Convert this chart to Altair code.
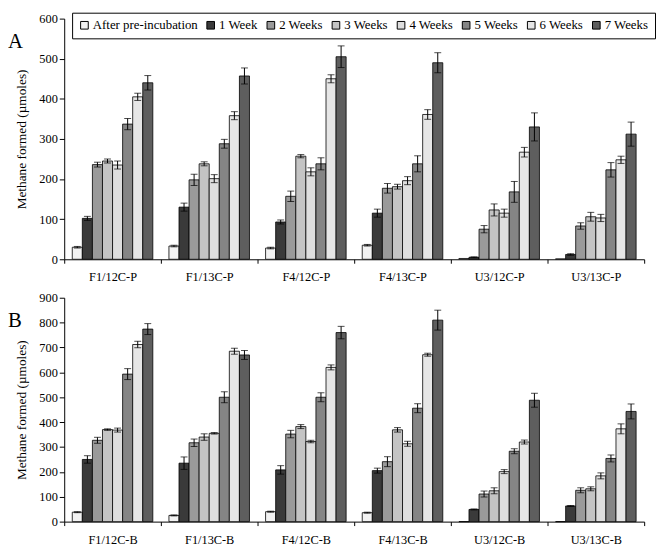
import altair as alt
import pandas as pd

FONT = "Liberation Serif"

series = ["After pre-incubation", "1 Week", "2 Weeks", "3 Weeks",
          "4 Weeks", "5 Weeks", "6 Weeks", "7 Weeks"]
fills = ["#f2f2f2", "#3a3a3a", "#9a9a9a", "#c4c4c4",
         "#dedede", "#858585", "#e6e6e6", "#5e5e5e"]

groups_a = ["F1/12C-P", "F1/13C-P", "F4/12C-P", "F4/13C-P", "U3/12C-P", "U3/13C-P"]
vals_a = [
    [30, 102, 236, 245, 235, 337, 405, 440],
    [33, 130, 198, 238, 201, 288, 358, 457],
    [28, 93, 157, 257, 218, 238, 450, 505],
    [35, 115, 177, 181, 196, 238, 361, 490],
    [2, 5, 75, 123, 115, 168, 267, 330],
    [1, 12, 83, 106, 103, 223, 248, 312],
]
errs_a = [
    [2, 5, 6, 5, 10, 14, 9, 18],
    [2, 10, 14, 5, 10, 11, 10, 20],
    [2, 5, 13, 4, 10, 15, 10, 27],
    [2, 10, 12, 6, 10, 20, 12, 25],
    [0, 1, 9, 15, 10, 26, 12, 35],
    [0, 2, 8, 11, 9, 18, 9, 30],
]

groups_b = ["F1/12C-B", "F1/13C-B", "F4/12C-B", "F4/13C-B", "U3/12C-B", "U3/13C-B"]
vals_b = [
    [38, 250, 327, 370, 368, 593, 712, 774],
    [25, 235, 317, 340, 355, 500, 685, 670],
    [40, 208, 352, 382, 322, 500, 620, 760],
    [36, 205, 241, 369, 313, 456, 671, 810],
    [0, 49, 111, 124, 201, 283, 320, 488],
    [0, 63, 126, 132, 184, 254, 373, 443],
]
errs_b = [
    [2, 15, 12, 3, 8, 22, 13, 22],
    [2, 25, 15, 13, 3, 22, 12, 18],
    [2, 17, 15, 8, 5, 18, 10, 25],
    [2, 10, 20, 9, 10, 18, 6, 40],
    [0, 2, 12, 12, 8, 10, 8, 28],
    [0, 2, 10, 8, 12, 14, 20, 30],
]


def make_df(groups, vals, errs):
    rows = []
    for g, vs, es in zip(groups, vals, errs):
        for s, v, e in zip(series, vs, es):
            rows.append({"group": g, "series": s, "value": v,
                         "lo": v - e, "hi": v + e, "err": e})
    return pd.DataFrame(rows)


def panel(groups, vals, errs, ymax, height, letter, show_legend):
    df = make_df(groups, vals, errs)
    base = alt.Chart(df)
    x = alt.X("group:N", sort=groups, title=None,
              scale=alt.Scale(paddingInner=0, paddingOuter=0),
              axis=alt.Axis(labelAngle=0, tickBand="extent", tickSize=4,
                            labelPadding=8, domainColor="black", tickColor="black",
                            labelFont=FONT, labelFontSize=12.5, labelColor="black"))
    xo = alt.XOffset("series:N", sort=series,
                     scale=alt.Scale(paddingInner=0, paddingOuter=0.8))
    yscale = alt.Scale(domain=[0, ymax], nice=False)
    yaxis = alt.Axis(values=list(range(0, ymax + 1, 100)),
                     title="Methane formed (µmoles)", grid=False,
                     labelOverlap=False, labelFlush=False,
                     tickSize=5, domainColor="black", tickColor="black",
                     labelFont=FONT, labelFontSize=12.5, labelColor="black",
                     titleFont=FONT, titleFontSize=13.5, titleFontWeight="normal",
                     titleColor="black", titlePadding=10)
    if show_legend:
        legend = alt.Legend(title=None, orient="none", legendX=8, legendY=-6,
                            direction="horizontal", columns=8,
                            symbolType="square", symbolSize=60,
                            symbolStrokeColor="black", symbolStrokeWidth=1,
                            labelFont=FONT, labelFontSize=13, labelColor="black",
                            labelOffset=2, columnPadding=6,
                            strokeColor="black", padding=6, fillColor="white")
    else:
        legend = None
    color = alt.Color("series:N", sort=series,
                      scale=alt.Scale(domain=series, range=fills), legend=legend)
    bars = base.mark_bar(stroke="black", strokeWidth=0.8).encode(
        x=x, xOffset=xo, y=alt.Y("value:Q", scale=yscale, axis=yaxis), color=color)
    edf = base.transform_filter("datum.err > 0")
    rule = edf.mark_rule(color="black", strokeWidth=1).encode(
        x=x, xOffset=xo, y=alt.Y("lo:Q", scale=yscale, axis=yaxis), y2="hi:Q")
    cap_hi = edf.mark_tick(color="black", thickness=1, size=7).encode(
        x=x, xOffset=xo, y=alt.Y("hi:Q", scale=yscale, axis=yaxis))
    cap_lo = edf.mark_tick(color="black", thickness=1, size=7).encode(
        x=x, xOffset=xo, y=alt.Y("lo:Q", scale=yscale, axis=yaxis))
    lab = alt.Chart(pd.DataFrame({"t": [letter]})).mark_text(
        font=FONT, fontSize=21, align="left", baseline="middle", color="black"
    ).encode(x=alt.value(-57), y=alt.value(24), text="t:N")
    return alt.layer(bars, rule, cap_hi, cap_lo, lab).properties(
        width=588, height=height)


a = panel(groups_a, vals_a, errs_a, 600, 244, "A", True)
b = panel(groups_b, vals_b, errs_b, 900, 227, "B", False)

chart = alt.vconcat(a, b, spacing=8).resolve_legend(color="independent").properties(
    padding=0).configure(font=FONT).configure_axis(
    labelFont=FONT, titleFont=FONT, labelOverlap=False).configure_legend(
    labelFont=FONT).configure_view(stroke=None)

chart.save("out.html", embed_options={"renderer": "svg", "actions": False})
